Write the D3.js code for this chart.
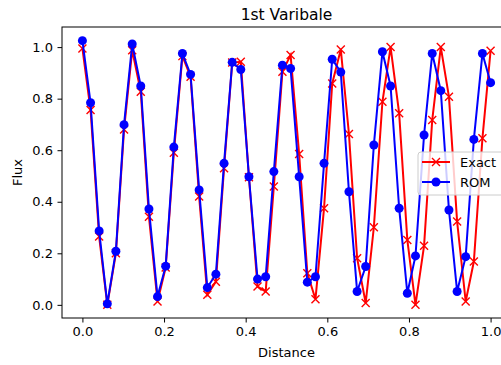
<!DOCTYPE html>
<html>
<head>
<meta charset="utf-8">
<script src="https://cdn.jsdelivr.net/npm/d3@7"></script>
<style>
  body { margin: 0; background: #fff; }
  svg { display: block; font-family: "DejaVu Sans", sans-serif; }
</style>
</head>
<body>
<div id="chart"></div>
<script>
// distance positions (0..1, 50 samples)
const distance = [0, 0.020, 0.041, 0.061, 0.082, 0.102, 0.122, 0.143, 0.163, 0.184,
  0.204, 0.224, 0.245, 0.265, 0.286, 0.306, 0.327, 0.347, 0.367, 0.388,
  0.408, 0.429, 0.449, 0.469, 0.490, 0.510, 0.531, 0.551, 0.571, 0.592,
  0.612, 0.633, 0.653, 0.673, 0.694, 0.714, 0.735, 0.755, 0.776, 0.796,
  0.816, 0.837, 0.857, 0.878, 0.898, 0.918, 0.939, 0.959, 0.980, 1.0];

const exact = [0.995, 0.756, 0.265, 0.0, 0.2, 0.68, 0.988, 0.827, 0.342, 0.013,
  0.145, 0.59, 0.965, 0.885, 0.42, 0.039, 0.09, 0.53, 0.94, 0.943,
  0.495, 0.071, 0.052, 0.459, 0.904, 0.969, 0.585, 0.123, 0.022, 0.375,
  0.859, 0.991, 0.663, 0.181, 0.007, 0.301, 0.788, 1.0, 0.743, 0.252,
  0.0, 0.229, 0.717, 1.0, 0.807, 0.323, 0.013, 0.168, 0.646, 0.986];

const rom = [1.025, 0.784, 0.287, 0.004, 0.208, 0.699, 1.012, 0.849, 0.372, 0.032,
  0.15, 0.612, 0.975, 0.894, 0.446, 0.067, 0.119, 0.549, 0.941, 0.913,
  0.497, 0.10, 0.109, 0.517, 0.93, 0.917, 0.497, 0.088, 0.109, 0.549,
  0.953, 0.903, 0.439, 0.052, 0.149, 0.62, 0.982, 0.849, 0.375, 0.045,
  0.19, 0.659, 0.975, 0.831, 0.368, 0.052, 0.187, 0.642, 0.975, 0.862];

const xTicks = [0.0, 0.2, 0.4, 0.6, 0.8, 1.0];
const yTicks = [0.0, 0.2, 0.4, 0.6, 0.8, 1.0];

// axes box (the right edge falls just past the picture, as in the original)
const box = { left: 62, right: 511, top: 27, bottom: 318 };
const W = 501, H = 365;

const x = d3.scaleLinear().domain([-0.05, 1.05]).range([box.left, box.right]);
const y = d3.scaleLinear().domain([-0.051, 1.078]).range([box.bottom, box.top]);

const svg = d3.select("#chart").append("svg")
    .attr("width", W)
    .attr("height", H);

svg.append("defs").append("clipPath").attr("id", "plotClip")
    .append("rect")
    .attr("x", box.left).attr("y", box.top)
    .attr("width", box.right - box.left).attr("height", box.bottom - box.top);

const plot = svg.append("g").attr("clip-path", "url(#plotClip)");

const line = d3.line()
    .x(d => x(d[0]))
    .y(d => y(d[1]));

const exactData = distance.map((d, i) => [d, exact[i]]);
const romData = distance.map((d, i) => [d, rom[i]]);

// Exact: red line with x markers
plot.append("path")
    .datum(exactData)
    .attr("fill", "none")
    .attr("stroke", "#ff0000")
    .attr("stroke-width", 2)
    .attr("d", line);

const ms = 4;
plot.selectAll(".xmark")
    .data(exactData)
    .enter()
    .append("path")
    .attr("class", "xmark")
    .attr("d", d => {
        const cx = x(d[0]), cy = y(d[1]);
        return `M${cx - ms},${cy - ms}L${cx + ms},${cy + ms}M${cx - ms},${cy + ms}L${cx + ms},${cy - ms}`;
    })
    .attr("stroke", "#ff0000")
    .attr("stroke-width", 1.4)
    .attr("fill", "none");

// ROM: blue line with circles
plot.append("path")
    .datum(romData)
    .attr("fill", "none")
    .attr("stroke", "#0000ff")
    .attr("stroke-width", 2)
    .attr("d", line);

plot.selectAll(".dot")
    .data(romData)
    .enter()
    .append("circle")
    .attr("class", "dot")
    .attr("cx", d => x(d[0]))
    .attr("cy", d => y(d[1]))
    .attr("r", 4.5)
    .attr("fill", "#0000ff");

// axes
const xAxis = svg.append("g")
    .attr("transform", `translate(0,${box.bottom})`)
    .call(d3.axisBottom(x).tickValues(xTicks).tickFormat(d3.format(".1f")).tickSize(4.5).tickPadding(4.5));
const yAxis = svg.append("g")
    .attr("transform", `translate(${box.left},0)`)
    .call(d3.axisLeft(y).tickValues(yTicks).tickFormat(d3.format(".1f")).tickSize(4.5).tickPadding(4.5));

[xAxis, yAxis].forEach(g => {
    g.select(".domain").remove();
    g.selectAll("text").attr("font-size", 13).attr("fill", "#000")
        .attr("font-family", "DejaVu Sans, sans-serif");
    g.selectAll("line").attr("stroke", "#000").attr("stroke-width", 1);
});

svg.append("rect")
    .attr("x", box.left).attr("y", box.top)
    .attr("width", box.right - box.left).attr("height", box.bottom - box.top)
    .attr("fill", "none")
    .attr("stroke", "#000")
    .attr("stroke-width", 1);

// labels
svg.append("text")
    .attr("x", (box.left + box.right) / 2)
    .attr("y", 20)
    .attr("text-anchor", "middle")
    .attr("font-size", 15.5)
    .text("1st Varibale");

svg.append("text")
    .attr("x", (box.left + box.right) / 2)
    .attr("y", 357)
    .attr("text-anchor", "middle")
    .attr("font-size", 13)
    .text("Distance");

svg.append("text")
    .attr("transform", `translate(22,${(box.top + box.bottom) / 2}) rotate(-90)`)
    .attr("text-anchor", "middle")
    .attr("font-size", 13)
    .text("Flux");

// legend
const legend = svg.append("g").attr("transform", "translate(418,152)");
legend.append("rect")
    .attr("width", 86).attr("height", 43)
    .attr("rx", 3)
    .attr("fill", "#fff").attr("fill-opacity", 0.8)
    .attr("stroke", "#cccccc").attr("stroke-width", 1);

const entries = [
    { name: "Exact", color: "#ff0000", marker: "x" },
    { name: "ROM", color: "#0000ff", marker: "o" }
];
entries.forEach((e, i) => {
    const ly = 10 + i * 20;
    legend.append("line")
        .attr("x1", 4).attr("x2", 32)
        .attr("y1", ly).attr("y2", ly)
        .attr("stroke", e.color).attr("stroke-width", 2);
    if (e.marker === "x") {
        legend.append("path")
            .attr("d", `M${18 - ms},${ly - ms}L${18 + ms},${ly + ms}M${18 - ms},${ly + ms}L${18 + ms},${ly - ms}`)
            .attr("stroke", e.color).attr("stroke-width", 1.4);
    } else {
        legend.append("circle")
            .attr("cx", 18).attr("cy", ly).attr("r", 4.5)
            .attr("fill", e.color);
    }
    legend.append("text")
        .attr("x", 42).attr("y", ly + 4.5)
        .attr("font-size", 13)
        .text(e.name);
});
</script>
</body>
</html>
